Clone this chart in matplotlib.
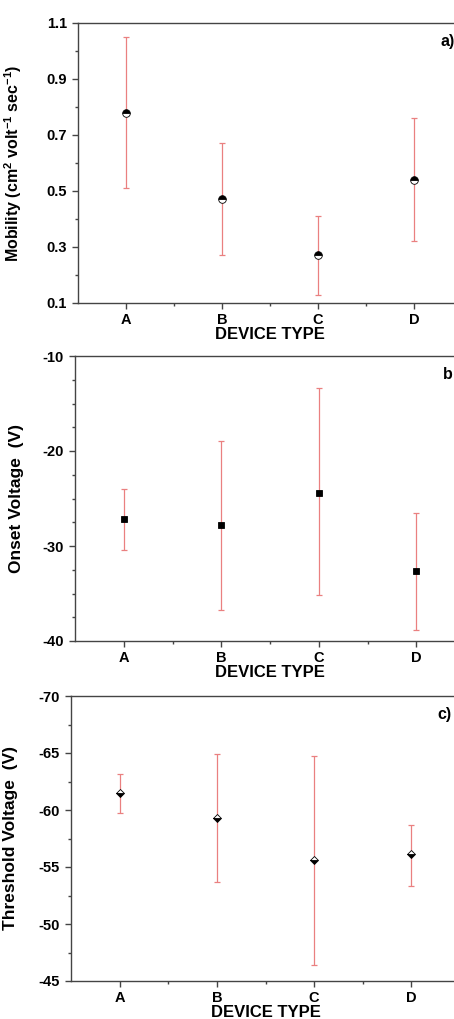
import numpy as np
import matplotlib
matplotlib.use('Agg')
from matplotlib import pyplot as plt
from matplotlib.ticker import MultipleLocator, FixedLocator

plt.rcParams['font.family'] = ['Liberation Sans', 'DejaVu Sans']
plt.rcParams['font.weight'] = 'bold'
plt.rcParams['mathtext.default'] = 'bf'
plt.rcParams['mathtext.fontset'] = 'custom'
plt.rcParams['mathtext.bf'] = 'Liberation Sans:bold'
plt.rcParams['axes.unicode_minus'] = False

# device types
devices = ['A', 'B', 'C', 'D']

# a) mobility (cm2/Vs): mean, lower and upper bounds
mob = [0.78, 0.47, 0.27, 0.54]
mob_lo = [0.51, 0.27, 0.13, 0.32]
mob_hi = [1.05, 0.67, 0.41, 0.76]

# b) onset voltage (V)
von = [-27.2, -27.8, -24.4, -32.6]
von_lo = [-30.4, -36.7, -35.2, -38.8]
von_hi = [-24.0, -18.9, -13.4, -26.5]

# c) threshold voltage (V)
vth = [-61.5, -59.3, -55.6, -56.1]
vth_lo = [-59.8, -53.7, -46.5, -53.5]
vth_hi = [-63.25, -64.95, -64.8, -58.9]

W, H = 454, 1019
fig = plt.figure(figsize=(W/100, H/100), dpi=100)

def make_ax(left, top, bottom, right):
    return fig.add_axes([left/W, 1-bottom/H, (right-left)/W, (bottom-top)/H])

ax_a = make_ax(78, 23, 303, 462)
ax_b = make_ax(75, 356, 641, 465)
ax_c = make_ax(71, 696, 981, 460)

x = np.arange(1, 5)
ecol = '#ea8080'

def draw(ax, y, lo, hi, marker, ms, fill, label, lsize, panel):
    y = np.array(y); lo = np.array(lo); hi = np.array(hi)
    err = [np.abs(y-lo), np.abs(hi-y)]
    ax.errorbar(x, y, yerr=err, fmt='none', ecolor=ecol, elinewidth=0.9,
                capsize=2.2, capthick=0.9, zorder=2)
    ax.plot(x, y, ls='none', marker=marker, ms=ms, mfc='k', mec='k',
            mew=0.6, fillstyle=fill, markerfacecoloralt='white', zorder=3)
    ax.set_xlim(0.5, 4.5)
    ax.set_xticks(x)
    ax.set_xticklabels(devices)
    ax.xaxis.set_minor_locator(FixedLocator([1.5, 2.5, 3.5]))
    for s in ax.spines.values():
        s.set_color('#444444')
        s.set_linewidth(1.0)
    ax.tick_params(which='major', direction='out', length=4, width=1,
                   color='#444444', labelsize=10.5, pad=4)
    ax.tick_params(axis='x', which='major', pad=3)
    ax.tick_params(which='minor', direction='out', length=2.5, width=1,
                   color='#444444')
    ax.set_xlabel('DEVICE TYPE', fontsize=12, fontweight='bold', labelpad=0)
    ax.set_ylabel(label, fontsize=lsize, fontweight='bold')
    ax.text(0.943, 0.935, panel, transform=ax.transAxes, fontsize=11.5,
            fontweight='bold', va='center', ha='left')

draw(ax_a, mob, mob_lo, mob_hi, 'o', 5.5, 'top',
     r'Mobility (cm$^{2}$ volt$^{-1}$ sec$^{-1}$)', 11.5, 'a)')
ax_a.set_ylim(0.1, 1.1)
ax_a.set_yticks([0.1, 0.3, 0.5, 0.7, 0.9, 1.1])
ax_a.yaxis.set_minor_locator(MultipleLocator(0.1))

draw(ax_b, von, von_lo, von_hi, 's', 4, 'full', 'Onset Voltage  (V)', 12.5, 'b')
ax_b.set_ylim(-40, -10)
ax_b.set_yticks([-40, -30, -20, -10])
ax_b.yaxis.set_minor_locator(MultipleLocator(2.5))

draw(ax_c, vth, vth_lo, vth_hi, 'D', 4.5, 'bottom', 'Threshold Voltage  (V)', 12.5, 'c)')
ax_c.set_ylim(-45, -70)
ax_c.set_yticks([-45, -50, -55, -60, -65, -70])
ax_c.yaxis.set_minor_locator(MultipleLocator(2.5))

ax_a.yaxis.set_label_coords(-0.14, 0.5)
ax_b.yaxis.set_label_coords(-0.13, 0.5)
ax_c.yaxis.set_label_coords(-0.135, 0.5)

fig.savefig('out.png', dpi=100)
